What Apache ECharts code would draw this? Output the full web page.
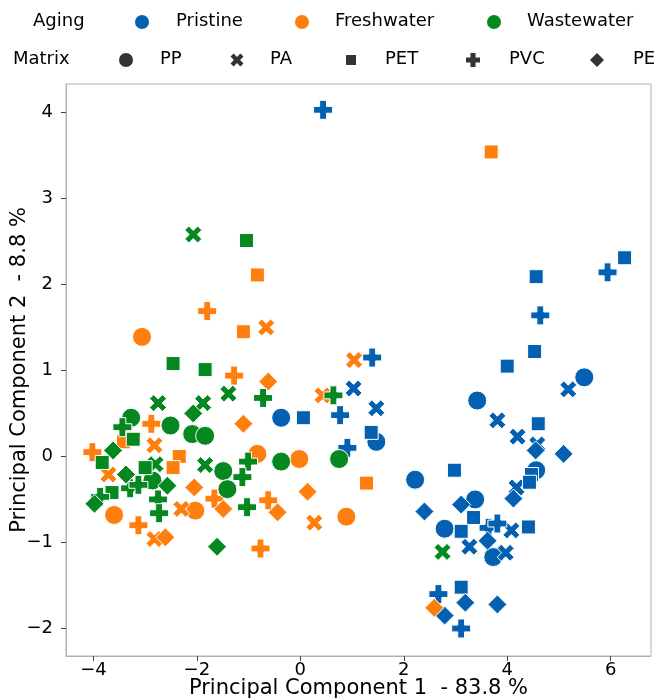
<!DOCTYPE html>
<html><head><meta charset="utf-8">
<script src="https://cdn.jsdelivr.net/npm/echarts@6/dist/echarts.min.js"></script>
<style>html,body{margin:0;padding:0;background:#fff}#c{width:657px;height:699px}</style>
</head><body><div id="c"></div>
<script>
// ---- data ----
const agingNames = ['Pristine', 'Freshwater', 'Wastewater'];
const matrixNames = ['PP', 'PA', 'PET', 'PVC', 'PE'];
const xTicks = [-4, -2, 0, 2, 4, 6];
const yTicks = [-2, -1, 0, 1, 2, 3, 4];

const pristinePP = [[-0.37,0.45],[1.47,0.17],[3.42,0.65],[5.49,0.92],[4.56,-0.16],[2.22,-0.27],[3.38,-0.50],[2.79,-0.84],[3.73,-1.17]];
const pristinePA = [[1.03,0.79],[1.47,0.56],[5.18,0.78],[3.81,0.42],[4.20,0.23],[4.58,0.14],[4.18,-0.36],[4.08,-0.86],[3.27,-1.05],[3.97,-1.12]];
const pristinePET = [[6.27,2.31],[4.56,2.09],[4.53,1.22],[4.0,1.05],[4.60,0.38],[4.47,-0.21],[4.43,-0.30],[2.98,-0.16],[3.35,-0.71],[3.11,-0.87],[4.41,-0.82],[3.11,-1.52],[0.06,0.45],[1.37,0.28]];
const pristinePVC = [[0.44,4.03],[5.94,2.14],[4.64,1.64],[1.39,1.15],[0.77,0.48],[0.91,0.10],[3.64,-0.83],[3.81,-0.78],[2.67,-1.60],[3.11,-2.0]];
const pristinePE = [[4.55,0.07],[5.09,0.03],[4.12,-0.49],[2.40,-0.64],[3.11,-0.56],[3.62,-0.98],[3.19,-1.70],[3.81,-1.72],[2.79,-1.85]];

const freshPP = [[-3.06,1.39],[-0.02,-0.03],[-0.83,0.03],[0.89,-0.70],[-3.60,-0.68],[-2.03,-0.63]];
const freshPA = [[1.04,1.12],[0.43,0.71],[-0.66,1.50],[0.27,-0.77],[-3.71,-0.21],[-2.82,-0.96],[-2.82,0.13],[-2.30,-0.61]];
const freshPET = [[3.69,3.54],[-0.83,2.11],[-1.10,1.45],[1.28,-0.31],[-2.34,0.0],[-3.42,0.17],[-2.46,-0.13]];
const freshPVC = [[-1.80,1.69],[-1.28,0.94],[-0.62,-0.51],[-0.77,-1.07],[-4.02,0.05],[-3.13,-0.80],[-2.88,0.38],[-1.66,-0.49]];
const freshPE = [[0.14,-0.41],[-0.44,-0.65],[-0.62,0.87],[-1.10,0.38],[2.59,-1.76],[-2.61,-0.94],[-2.05,-0.36],[-1.49,-0.61]];

const wastePP = [[-0.37,-0.06],[0.75,-0.03],[-2.51,0.36],[-2.09,0.26],[-1.84,0.24],[-3.27,0.45],[-2.86,-0.28],[-1.49,-0.17],[-1.41,-0.38]];
const wastePA = [[-2.07,2.58],[-1.39,0.73],[-1.88,0.62],[-2.75,0.62],[-2.80,-0.09],[-1.84,-0.10],[2.75,-1.11]];
const wastePET = [[-1.04,2.51],[-2.46,1.08],[-1.84,1.01],[-3.23,0.20],[-3.83,-0.07],[-3.00,-0.13],[-3.64,-0.42]];
const wastePVC = [[0.64,0.71],[-0.72,0.68],[-3.44,0.34],[-3.29,-0.37],[-3.87,-0.47],[-2.75,-0.50],[-2.73,-0.66],[-1.01,-0.06],[-1.12,-0.24],[-1.03,-0.59],[-3.13,-0.33]];
const wastePE = [[-2.07,0.50],[-3.62,0.07],[-3.37,-0.21],[-2.57,-0.34],[-3.98,-0.55],[-1.61,-1.05]];

// ---- styling ----
const colors = {Pristine: '#0461b1', Freshwater: '#ff7f0e', Wastewater: '#05881f'};
const PLUS_PTS = [[3.2,0],[6.8,0],[6.8,3.2],[10,3.2],[10,6.8],[6.8,6.8],[6.8,10],[3.2,10],[3.2,6.8],[0,6.8],[0,3.2],[3.2,3.2]];
const X_PTS = [[0,2.4],[2.4,0],[5,2.6],[7.6,0],[10,2.4],[7.4,5],[10,7.6],[7.6,10],[5,7.4],[2.4,10],[0,7.6],[2.6,5]];
const toPath = pts => 'path://M' + pts.map(p => p[0] + ',' + p[1]).join('L') + 'Z';
const symbols = {PP: ['circle', 19], PA: [toPath(X_PTS), 17], PET: ['rect', 14], PVC: [toPath(PLUS_PTS), 19], PE: ['diamond', 19]};

const groups = {
  Pristine: {PP: pristinePP, PA: pristinePA, PET: pristinePET, PVC: pristinePVC, PE: pristinePE},
  Freshwater: {PP: freshPP, PA: freshPA, PET: freshPET, PVC: freshPVC, PE: freshPE},
  Wastewater: {PP: wastePP, PA: wastePA, PET: wastePET, PVC: wastePVC, PE: wastePE}
};

const series = [];
agingNames.forEach(a => {
  matrixNames.forEach(m => {
    series.push({
      type: 'scatter', name: a + ' ' + m,
      data: groups[a][m],
      symbol: symbols[m][0], symbolSize: symbols[m][1], symbolKeepAspect: true,
      itemStyle: {color: colors[a], borderColor: '#ffffff', borderWidth: 1, opacity: 1},
      emphasis: {disabled: true}, animation: false
    });
  });
});

const FONT = 'DejaVu Sans';
const minus = v => String(v).replace('-', '\u2212');

// legend built as graphics
const g = [];
const r1 = 21, r2 = 59;
function txt(x, y, s) { g.push({type: 'text', x: x, y: y, style: {text: s, fontSize: 18, fontFamily: FONT, fill: '#000', verticalAlign: 'middle', align: 'left'}}); }
function poly(pts, ox, oy, size, fill) {
  g.push({type: 'polygon', shape: {points: pts.map(p => [ox - size / 2 + p[0] * size / 10, oy - size / 2 + p[1] * size / 10])}, style: {fill: fill}});
}
txt(33, r1, 'Aging');
[['Pristine', 142, 176], ['Freshwater', 302, 335], ['Wastewater', 494, 527]].forEach(([n, cx, tx]) => {
  g.push({type: 'circle', shape: {cx: cx, cy: r1 + 1, r: 7}, style: {fill: colors[n]}});
  txt(tx, r1, n);
});
txt(13, r2, 'Matrix');
const lg = '#333333';
g.push({type: 'circle', shape: {cx: 126, cy: r2 + 1, r: 7}, style: {fill: lg}});
txt(160, r2, 'PP');
poly(X_PTS, 237, r2 + 1, 13, lg);
txt(270, r2, 'PA');
g.push({type: 'rect', shape: {x: 346, y: r2 - 4, width: 10, height: 10}, style: {fill: lg}});
txt(385, r2, 'PET');
poly(PLUS_PTS, 473, r2 + 1, 14, lg);
txt(509, r2, 'PVC');
g.push({type: 'polygon', shape: {points: [[597, r2 - 6], [604, r2 + 1], [597, r2 + 8], [590, r2 + 1]]}, style: {fill: lg}});
txt(633, r2, 'PE');

const chart = echarts.init(document.getElementById('c'), null, {renderer: 'canvas'});
chart.setOption({
  animation: false,
  backgroundColor: '#ffffff',
  grid: {left: 66, right: 6, top: 84, bottom: 43, show: true, borderColor: '#b0b0b0', borderWidth: 1, containLabel: false, outerBoundsMode: 'none'},
  xAxis: {
    type: 'value', min: -4.53, max: 6.78,
    splitLine: {show: false},
    axisLine: {onZero: false, lineStyle: {color: '#b0b0b0'}},
    axisTick: {show: true, customValues: xTicks, length: 5, lineStyle: {color: '#444'}},
    axisLabel: {customValues: xTicks, formatter: minus, fontSize: 18, fontFamily: FONT, color: '#000', margin: 5},
    name: 'Principal Component 1  - 83.8 %', nameLocation: 'middle', nameGap: 22, nameMoveOverlap: false,
    nameTextStyle: {fontSize: 21, fontFamily: FONT, color: '#000'}
  },
  yAxis: {
    type: 'value', min: -2.32, max: 4.33,
    splitLine: {show: false},
    axisLine: {onZero: false, lineStyle: {color: '#b0b0b0'}},
    axisTick: {show: true, customValues: yTicks, length: 5, lineStyle: {color: '#444'}},
    axisLabel: {customValues: yTicks, formatter: minus, fontSize: 18, fontFamily: FONT, color: '#000', margin: 13},
    name: 'Principal Component 2  - 8.8 %', nameLocation: 'middle', nameGap: 36, nameRotate: 90, nameMoveOverlap: false,
    nameTextStyle: {fontSize: 21, fontFamily: FONT, color: '#000'}
  },
  graphic: g,
  series: series
});
</script></body></html>
